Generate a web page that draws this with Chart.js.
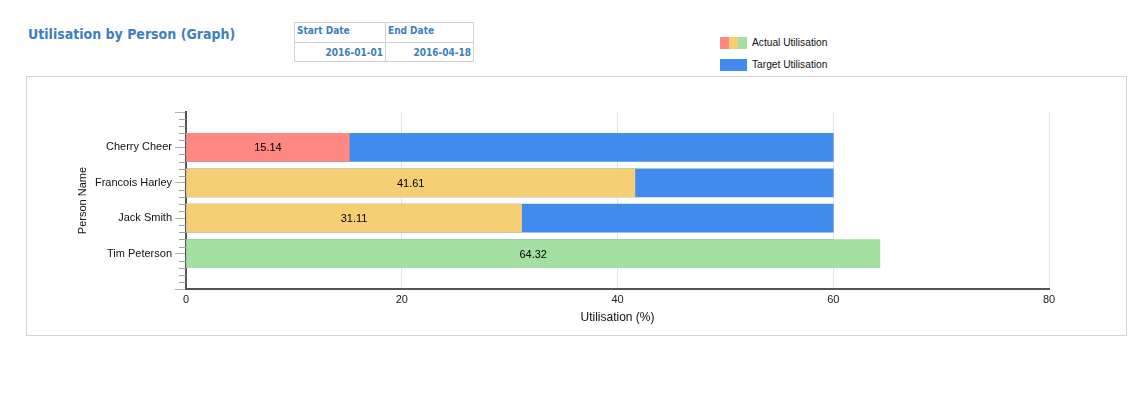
<!DOCTYPE html>
<html>
<head>
<meta charset="utf-8">
<script src="https://cdn.jsdelivr.net/npm/chart.js@4.4.1/dist/chart.umd.min.js"></script>
<style>
    body { margin: 0; background: #fff; font-family: "Liberation Sans", Arial, sans-serif; }
    #page { position: relative; width: 1146px; height: 399px; }
    .title { position: absolute; left: 28px; top: 26px; font: bold 14px "DejaVu Sans Condensed", "DejaVu Sans", Verdana, sans-serif; color: #3d80c1; }
    table.dates { position: absolute; left: 294px; top: 22px; border-collapse: collapse; font: bold 10px "DejaVu Sans Condensed", Tahoma, sans-serif; color: #3d80c1; }
    table.dates td { border: 1px solid #d0d0d0; padding: 2px 2px; }
    table.dates tr.head td { height: 15px; vertical-align: top; text-align: left; }
    table.dates tr.vals td { height: 14px; text-align: right; vertical-align: middle; }
    .legend { position: absolute; left: 720px; font-size: 10.2px; color: #111; }
    .legend .sw { display: inline-block; width: 27px; height: 12px; vertical-align: middle; margin-right: 5px; }
    #panel { position: absolute; left: 26px; top: 76px; width: 1099px; height: 258px; border: 1px solid #d4d4d4; }
</style>
</head>
<body>
<div id="page">
    <div class="title">Utilisation by Person (Graph)</div>
    <table class="dates">
        <tr class="head"><td style="width:86px">Start Date</td><td style="width:83px">End Date</td></tr>
        <tr class="vals"><td>2016-01-01</td><td>2016-04-18</td></tr>
    </table>
    <div class="legend" style="top:37px">
        <span class="sw" style="background:linear-gradient(to right,#ff8784 0 33%,#f6cf74 33% 66%,#a3dfa0 66%)"></span>Actual Utilisation
    </div>
    <div class="legend" style="top:59px">
        <span class="sw" style="background:#418bee"></span>Target Utilisation
    </div>
    <div id="panel"><canvas id="utilChart" width="1099" height="258"></canvas></div>
</div>
<script>
// Chart data
const people = ['Cherry Cheer', 'Francois Harley', 'Jack Smith', 'Tim Peterson'];
const actualUtilisation = [15.14, 41.61, 31.11, 64.32];
const targetUtilisation = [60, 60, 60, 60];
const actualColours = ['#ff8784', '#f6cf74', '#f6cf74', '#a3dfa0'];
const xTicks = [0, 20, 40, 60, 80];

// empty slot above and below the people, like the original axis
const axisLabels = [''].concat(people, ['']);
function pad(arr) {
    return [null].concat(arr, [null]);
}

const font = { family: '"Liberation Sans", Arial, sans-serif', size: 11 };

// minor ticks on the y axis and the value text in the actual bars
const extrasPlugin = {
    id: 'extras',
    afterDraw(chart) {
        const ctx = chart.ctx;
        const y = chart.scales.y;
        ctx.save();
        ctx.strokeStyle = '#a0a0a0';
        ctx.lineWidth = 1;
        for (let i = 0; i < axisLabels.length - 1; i++) {
            for (let k = 1; k < 5; k++) {
                const py = Math.round(y.getPixelForValue(i + k / 5)) + 0.5;
                ctx.beginPath();
                ctx.moveTo(y.right - 7, py);
                ctx.lineTo(y.right, py);
                ctx.stroke();
            }
        }
        ctx.restore();
    },
    afterDatasetsDraw(chart) {
        const ctx = chart.ctx;
        const meta = chart.getDatasetMeta(0);
        ctx.save();
        ctx.fillStyle = '#000';
        ctx.font = '11px "Liberation Sans", Arial, sans-serif';
        ctx.textAlign = 'center';
        ctx.textBaseline = 'middle';
        meta.data.forEach((bar, i) => {
            const value = chart.data.datasets[0].data[i];
            if (value === null) return;
            ctx.fillText(value.toFixed(2), (bar.x + bar.base) / 2, bar.y + 1);
        });
        ctx.restore();
    }
};

const ctx = document.getElementById('utilChart').getContext('2d');
new Chart(ctx, {
    type: 'bar',
    data: {
        labels: axisLabels,
        datasets: [
            {
                label: 'Actual Utilisation',
                data: pad(actualUtilisation),
                backgroundColor: pad(actualColours),
                grouped: false,
                barThickness: 28
            },
            {
                label: 'Target Utilisation',
                data: pad(targetUtilisation),
                backgroundColor: '#418bee',
                grouped: false,
                barThickness: 28
            }
        ]
    },
    options: {
        indexAxis: 'y',
        responsive: false,
        animation: false,
        layout: { padding: { left: 49, right: 77, top: 35, bottom: 4 } },
        plugins: {
            legend: { display: false },
            tooltip: { enabled: false }
        },
        scales: {
            x: {
                min: 0,
                max: 80,
                afterBuildTicks(scale) {
                    scale.ticks = xTicks.map(v => ({ value: v }));
                },
                afterFit(scale) {
                    scale.height = 42;
                },
                grid: { color: '#e4e4e4', drawTicks: false },
                border: { color: '#555', width: 2 },
                ticks: { color: '#222', font: font, padding: 4 },
                title: { display: true, text: 'Utilisation (%)', color: '#111', font: { family: font.family, size: 12 }, padding: { top: 4, bottom: 6 } }
            },
            y: {
                offset: false,
                afterFit(scale) {
                    scale.width = 110;
                },
                grid: { offset: false, drawOnChartArea: false, color: '#b0b0b0', tickLength: 11 },
                border: { color: '#555', width: 2 },
                ticks: { color: '#111', font: font, padding: 3, autoSkip: false },
                title: { display: true, text: 'Person Name', color: '#111', font: font, padding: 0 }
            }
        }
    },
    plugins: [extrasPlugin]
});
</script>
</body>
</html>
